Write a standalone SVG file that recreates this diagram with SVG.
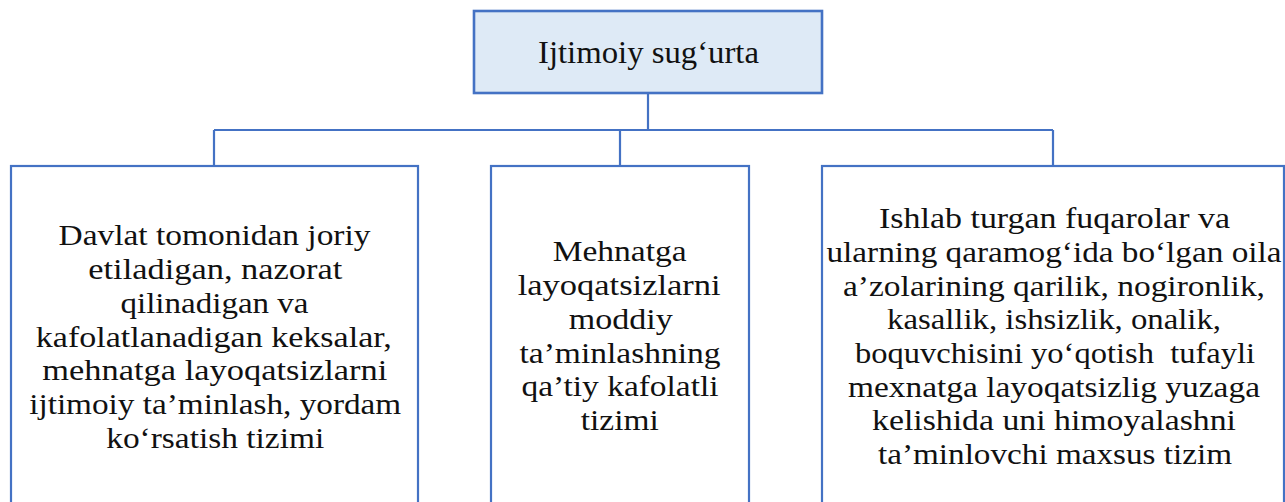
<svg xmlns="http://www.w3.org/2000/svg" width="1285" height="502" viewBox="0 0 1285 502">
<style>
.box{fill:#ffffff;stroke:#4472c4;stroke-width:2.2}
.top{fill:#deeaf6;stroke:#4472c4;stroke-width:2.6}
.conn{fill:none;stroke:#4472c4;stroke-width:2.2}
.t{font-family:"Liberation Serif","DejaVu Serif",serif;font-size:29px;fill:#111111;text-anchor:middle}
.h{font-family:"Liberation Serif","DejaVu Serif",serif;font-size:32.5px;fill:#111111;text-anchor:middle}
</style>
<rect width="1285" height="502" fill="#ffffff"/>
<g id="connectors">
<path class="conn" d="M648 93V130M214 130H1053M214 130V166M620 130V166M1053 130V166"/>
</g>
<g id="node-top">
<rect class="top" x="474" y="11" width="348" height="82"/>
<text class="h" x="648.5" y="63" textLength="221" lengthAdjust="spacingAndGlyphs">Ijtimoiy sug‘urta</text>
</g>
<g id="node-left">
<rect class="box" x="11" y="166" width="407" height="360"/>
<text class="t" x="214.5" y="245" textLength="312" lengthAdjust="spacingAndGlyphs">Davlat tomonidan joriy</text>
<text class="t" x="215.3" y="279" textLength="254" lengthAdjust="spacingAndGlyphs">etiladigan, nazorat</text>
<text class="t" x="214.5" y="313" textLength="188" lengthAdjust="spacingAndGlyphs">qilinadigan va</text>
<text class="t" x="213.8" y="347" textLength="356" lengthAdjust="spacingAndGlyphs">kafolatlanadigan keksalar,</text>
<text class="t" x="214.8" y="380" textLength="345" lengthAdjust="spacingAndGlyphs">mehnatga layoqatsizlarni</text>
<text class="t" x="215.2" y="414" textLength="372" lengthAdjust="spacingAndGlyphs">ijtimoiy ta’minlash, yordam</text>
<text class="t" x="215.2" y="448" textLength="218" lengthAdjust="spacingAndGlyphs">ko‘rsatish tizimi</text>
</g>
<g id="node-middle">
<rect class="box" x="491" y="166" width="258" height="360"/>
<text class="t" x="619.7" y="261" textLength="134" lengthAdjust="spacingAndGlyphs">Mehnatga</text>
<text class="t" x="619.2" y="295" textLength="203" lengthAdjust="spacingAndGlyphs">layoqatsizlarni</text>
<text class="t" x="620.8" y="329" textLength="104" lengthAdjust="spacingAndGlyphs">moddiy</text>
<text class="t" x="620" y="363" textLength="201" lengthAdjust="spacingAndGlyphs">ta’minlashning</text>
<text class="t" x="620" y="396" textLength="197" lengthAdjust="spacingAndGlyphs">qa’tiy kafolatli</text>
<text class="t" x="619.8" y="430" textLength="78" lengthAdjust="spacingAndGlyphs">tizimi</text>
</g>
<g id="node-right">
<rect class="box" x="822" y="166" width="462" height="360"/>
<text class="t" x="1054.5" y="228" textLength="351" lengthAdjust="spacingAndGlyphs">Ishlab turgan fuqarolar va</text>
<text class="t" x="1054" y="262" textLength="455" lengthAdjust="spacingAndGlyphs">ularning qaramog‘ida bo‘lgan oila</text>
<text class="t" x="1054" y="296" textLength="422" lengthAdjust="spacingAndGlyphs">a’zolarining qarilik, nogironlik,</text>
<text class="t" x="1054" y="329" textLength="334" lengthAdjust="spacingAndGlyphs">kasallik, ishsizlik, onalik,</text>
<text class="t" x="1055" y="363" textLength="400" lengthAdjust="spacingAndGlyphs" xml:space="preserve">boquvchisini yo‘qotish  tufayli</text>
<text class="t" x="1054" y="397" textLength="412" lengthAdjust="spacingAndGlyphs">mexnatga layoqatsizlig yuzaga</text>
<text class="t" x="1054" y="430" textLength="364" lengthAdjust="spacingAndGlyphs">kelishida uni himoyalashni</text>
<text class="t" x="1055" y="464" textLength="354" lengthAdjust="spacingAndGlyphs">ta’minlovchi maxsus tizim</text>
</g>
</svg>
